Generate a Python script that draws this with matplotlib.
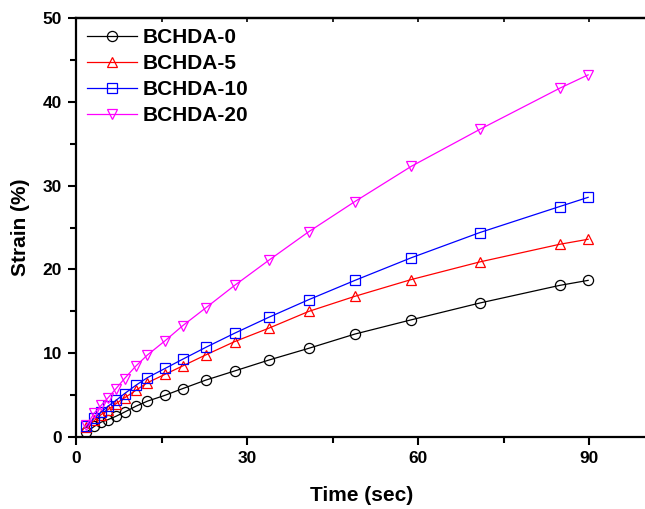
import numpy as np
import matplotlib
matplotlib.use('Agg')
import matplotlib.pyplot as plt
from matplotlib.ticker import MultipleLocator

plt.rcParams['font.family'] = ['Liberation Sans', 'DejaVu Sans']
plt.rcParams['font.weight'] = 'bold'

# time points (sec)
time = [1.8, 3.2, 4.4, 5.6, 7.0, 8.5, 10.5, 12.5, 15.6, 18.7, 22.7, 27.8,
        33.8, 40.8, 48.9, 58.8, 70.8, 84.8, 89.8]

strain_0 = [0.6, 1.3, 1.8, 2.1, 2.5, 3.0, 3.7, 4.3, 5.0, 5.8, 6.8, 7.9,
            9.2, 10.6, 12.3, 14.0, 16.0, 18.1, 18.7]
strain_5 = [1.2, 2.0, 2.7, 3.3, 4.0, 4.7, 5.6, 6.5, 7.5, 8.5, 9.8, 11.4,
            13.0, 15.0, 16.8, 18.8, 20.9, 23.0, 23.6]
strain_10 = [1.3, 2.3, 3.0, 3.7, 4.4, 5.2, 6.2, 7.1, 8.2, 9.3, 10.7, 12.4,
             14.3, 16.4, 18.7, 21.4, 24.4, 27.5, 28.6]
strain_20 = [1.4, 2.9, 3.8, 4.7, 5.8, 7.0, 8.5, 9.8, 11.5, 13.3, 15.4, 18.1,
             21.1, 24.5, 28.1, 32.3, 36.7, 41.6, 43.2]

labels = ['BCHDA-0', 'BCHDA-5', 'BCHDA-10', 'BCHDA-20']
colors = ['black', 'red', 'blue', 'magenta']
markers = ['o', '^', 's', 'v']

fig = plt.figure(figsize=(6.45, 5.09), dpi=100)
ax = fig.add_axes([0.118, 0.141, 0.884, 0.824])

for y, lab, c, m in zip([strain_0, strain_5, strain_10, strain_20], labels, colors, markers):
    ax.plot(time, y, '-', color=c, lw=0.9, marker=m, markersize=7.3,
            markerfacecolor='none', markeredgecolor=c, markeredgewidth=0.9, label=lab)

ax.set_xlim(0, 100)
ax.set_ylim(0, 50)
ax.xaxis.set_major_locator(MultipleLocator(30))
ax.xaxis.set_minor_locator(MultipleLocator(15))
ax.yaxis.set_major_locator(MultipleLocator(10))
ax.yaxis.set_minor_locator(MultipleLocator(5))

for s in ['left', 'bottom', 'top']:
    ax.spines[s].set_linewidth(1.6)
ax.spines['right'].set_visible(False)

ax.tick_params(which='major', direction='out', length=6, width=1.5, labelsize=12.5, pad=4)
ax.tick_params(which='minor', direction='out', length=4, width=1.5)

# small inward ticks along the top border
top = ax.secondary_xaxis('top')
top.xaxis.set_major_locator(MultipleLocator(30))
top.xaxis.set_minor_locator(MultipleLocator(15))
top.tick_params(which='both', direction='in', length=3, width=1.2, labeltop=False)
top.spines['top'].set_linewidth(1.6)

ax.set_xlabel('Time (sec)', fontsize=15, fontweight='bold', labelpad=14)
ax.set_ylabel('Strain (%)', fontsize=15, fontweight='bold', labelpad=9)

ax.legend(loc='upper left', frameon=False, fontsize=15, handlelength=2.4,
          borderaxespad=0.15, borderpad=0.35, labelspacing=0.34, handletextpad=0.3)

plt.savefig('out.png', dpi=100)
